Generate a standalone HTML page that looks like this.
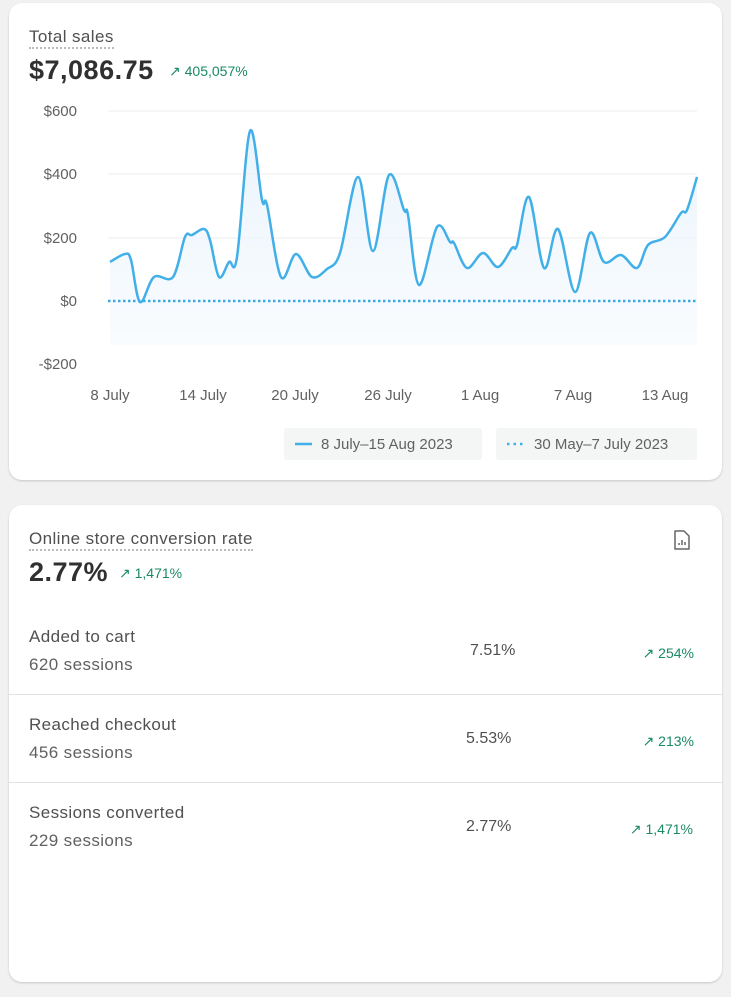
<!DOCTYPE html>
<html><head><meta charset="utf-8"><style>
body{margin:0;width:731px;height:997px;background:#f1f1f1;font-family:"Liberation Sans",sans-serif;position:relative;overflow:hidden}
.card{position:absolute;left:9px;width:713px;background:#fff;border-radius:13px;box-shadow:0 1px 2px rgba(0,0,0,.18)}
.t{position:absolute;white-space:nowrap}
.g{color:#1a8a63;font-size:14px}
.lab{color:#616161;font-size:17px;letter-spacing:0.4px}
.val{color:#303030;font-size:16px}
.div{position:absolute;left:0;width:713px;height:1px;background:#e3e3e3}
</style></head><body>
<div class="card" style="top:3px;height:477px"></div>
<div class="card" style="top:505px;height:477px"></div>

<div class="t" style="left:29px;top:27px;font-size:17px;letter-spacing:0.4px;color:#505050;border-bottom:2px dotted #bbb;line-height:20px">Total sales</div>
<div class="t" style="left:29px;top:55px;font-size:27px;letter-spacing:0.5px;font-weight:bold;color:#303030">$7,086.75</div>
<div class="t g" style="left:169px;top:63px">&#8599;&#xFE0E; 405,057%</div>

<svg style="position:absolute;left:0;top:0" width="731" height="480">
<g stroke="#ececec" stroke-width="1">
<line x1="108" y1="111" x2="697" y2="111"/><line x1="108" y1="174" x2="697" y2="174"/><line x1="108" y1="238" x2="697" y2="238"/>
</g>
<g font-family="Liberation Sans" font-size="15" fill="#616161" text-anchor="end">
<text x="77" y="116">$600</text><text x="77" y="179">$400</text><text x="77" y="243">$200</text><text x="77" y="306">$0</text><text x="77" y="369">-$200</text>
</g>
<g font-family="Liberation Sans" font-size="15" fill="#616161" text-anchor="middle">
<text x="110" y="400">8 July</text><text x="203" y="400">14 July</text><text x="295" y="400">20 July</text><text x="388" y="400">26 July</text><text x="480" y="400">1 Aug</text><text x="573" y="400">7 Aug</text><text x="665" y="400">13 Aug</text>
</g>
<defs><linearGradient id="gr" x1="0" y1="0" x2="0" y2="1"><stop offset="0" stop-color="#e6f2fb"/><stop offset="1" stop-color="#f8fbfe"/></linearGradient></defs>
<path id="area" fill="url(#gr)" opacity="0.8"/>
<line x1="108" y1="301" x2="697" y2="301" stroke="#3aa9e0" stroke-width="2.5" stroke-dasharray="2.5 2.5"/>
<path id="ln" fill="none" stroke="#42b0e8" stroke-width="2.5" stroke-linejoin="round"/>
<rect x="284" y="428" width="198" height="32" rx="3" fill="#f4f6f6"/>
<rect x="496" y="428" width="201" height="32" rx="3" fill="#f4f6f6"/>
<line x1="295" y1="444" x2="312" y2="444" stroke="#42b0e8" stroke-width="2.5"/>
<line x1="507" y1="444" x2="524" y2="444" stroke="#42b0e8" stroke-width="2.5" stroke-dasharray="2.5 4"/>
<g font-family="Liberation Sans" font-size="15" fill="#616161"><text x="321" y="449">8 July–15 Aug 2023</text><text x="534" y="449">30 May–7 July 2023</text></g>
</svg>

<div class="t" style="left:29px;top:529px;font-size:17px;letter-spacing:0.4px;color:#505050;border-bottom:2px dotted #bbb;line-height:20px">Online store conversion rate</div>
<div class="t" style="left:29px;top:557px;font-size:27px;letter-spacing:0.5px;font-weight:bold;color:#303030">2.77%</div>
<div class="t g" style="left:119px;top:565px">&#8599;&#xFE0E; 1,471%</div>
<svg style="position:absolute;left:673px;top:529px" width="18" height="22"><path d="M2 2h9l5 5v13H2z" fill="none" stroke="#666" stroke-width="1.5" stroke-linejoin="round"/><path d="M6 16v-2M9 16v-5M12 16v-3" stroke="#666" stroke-width="1.5"/></svg>

<div class="t lab" style="left:29px;top:627px;color:#505050">Added to cart</div>
<div class="t lab" style="left:29px;top:655px">620 sessions</div>
<div class="t val" style="left:470px;top:642px;color:#505050">7.51%</div>
<div class="t g" style="right:37px;top:645px">&#8599;&#xFE0E; 254%</div>
<div class="div" style="left:9px;top:694px"></div>
<div class="t lab" style="left:29px;top:715px;color:#505050">Reached checkout</div>
<div class="t lab" style="left:29px;top:743px">456 sessions</div>
<div class="t val" style="left:466px;top:730px;color:#505050">5.53%</div>
<div class="t g" style="right:37px;top:733px">&#8599;&#xFE0E; 213%</div>
<div class="div" style="left:9px;top:782px"></div>
<div class="t lab" style="left:29px;top:803px;color:#505050">Sessions converted</div>
<div class="t lab" style="left:29px;top:831px">229 sessions</div>
<div class="t val" style="left:466px;top:818px;color:#505050">2.77%</div>
<div class="t g" style="right:38px;top:821px">&#8599;&#xFE0E; 1,471%</div>

<script>
var p=[[110,262],[125,254],[131,260],[140,302],[154,277],[173,277],[185,237],[192,235],[204,229],[210,240],[219,277],[229,262],[237,257],[250,131],[262,200],[267,205],[281,277],[296,254],[312,277],[327,269],[340,253],[358,177],[373,251],[389,175],[404,210],[408,215],[419,285],[437,227],[450,242],[454,243],[467,268],[483,253],[498,267],[512,248],[517,245],[529,197],[544,268],[558,229],[575,292],[590,233],[604,262],[621,255],[637,268],[648,245],[665,237],[681,213],[687,210],[697,177]];
var d="M"+p[0];
for(var i=0;i<p.length-1;i++){var a=p[i-1]||p[i],b=p[i],c=p[i+1],e=p[i+2]||c;
d+=" C"+(b[0]+(c[0]-a[0])/6)+","+(b[1]+(c[1]-a[1])/6)+" "+(c[0]-(e[0]-b[0])/6)+","+(c[1]-(e[1]-b[1])/6)+" "+c[0]+","+c[1];}
document.getElementById("ln").setAttribute("d",d);
document.getElementById("area").setAttribute("d",d+" L697,345 L110,345Z");
</script>
</body></html>
